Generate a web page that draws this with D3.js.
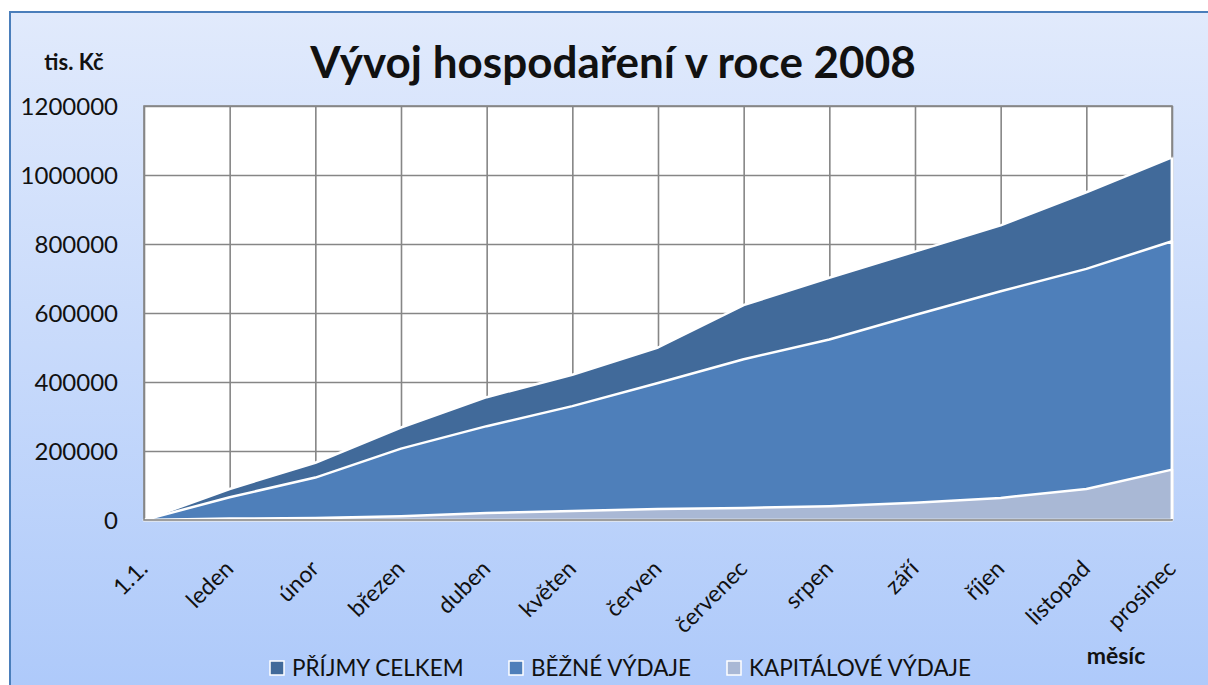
<!DOCTYPE html>
<html>
<head>
<meta charset="utf-8">
<script src="https://cdn.jsdelivr.net/npm/d3@7"></script>
<style>
  body { margin: 0; background: #fff; }
  svg { display: block; }
  text { font-family: Lato, "Open Sans", sans-serif; fill: #111; }
</style>
</head>
<body>
<svg id="chart" width="1208" height="685"></svg>
<script>
const categories = ['1.1.', 'leden', 'únor', 'březen', 'duben', 'květen', 'červen', 'červenec', 'srpen', 'září', 'říjen', 'listopad', 'prosinec']
const prijmyCelkem = [0, 90000, 166000, 268000, 356000, 421000, 500000, 623000, 702000, 778000, 854000, 950000, 1051000]
const bezneVydaje = [0, 66000, 123000, 207000, 272000, 330000, 397000, 466000, 523000, 594000, 663000, 728000, 808000]
const kapitaloveVydaje = [0, 4000, 6000, 11000, 20000, 26000, 32000, 35000, 40000, 50000, 64000, 90000, 146000]
const yTicks = [0, 200000, 400000, 600000, 800000, 1000000, 1200000]

const seriesNames = ['PŘÍJMY CELKEM', 'BĚŽNÉ VÝDAJE', 'KAPITÁLOVÉ VÝDAJE']
const seriesColors = ['#416a9a', '#4e7fba', '#a9b8d5']
const seriesValues = [prijmyCelkem, bezneVydaje, kapitaloveVydaje]

const svg = d3.select('#chart')
const plot = {left: 144, right: 1172, top: 106, bottom: 520}

// background of chart area
const defs = svg.append('defs')
const grad = defs.append('linearGradient')
    .attr('id', 'bg')
    .attr('x1', 0).attr('y1', 0).attr('x2', 0).attr('y2', 1)
grad.append('stop').attr('offset', '0%').attr('stop-color', '#e1eafc')
grad.append('stop').attr('offset', '100%').attr('stop-color', '#adc9fa')

svg.append('rect')
    .attr('x', 10).attr('y', 12)
    .attr('width', 1220).attr('height', 690)
    .attr('fill', 'url(#bg)')
    .attr('stroke', '#4a7ebb')
    .attr('stroke-width', 2)

const x = d3.scalePoint()
    .domain(categories)
    .range([plot.left, plot.right])

const y = d3.scaleLinear()
    .domain([0, 1200000])
    .range([plot.bottom, plot.top])

svg.append('rect')
    .attr('x', plot.left).attr('y', plot.top)
    .attr('width', plot.right - plot.left)
    .attr('height', plot.bottom - plot.top)
    .attr('fill', '#fff')

// gridlines
svg.append('g')
    .attr('transform', `translate(0,${plot.bottom})`)
    .call(d3.axisBottom(x).tickSize(plot.top - plot.bottom).tickFormat(''))
    .call(g => g.select('.domain').remove())
    .selectAll('line')
    .attr('stroke', '#868686')
    .attr('stroke-width', 1.6)

svg.append('g')
    .attr('transform', `translate(${plot.left},0)`)
    .call(d3.axisLeft(y).tickValues(yTicks).tickSize(plot.left - plot.right).tickFormat(''))
    .call(g => g.select('.domain').remove())
    .selectAll('line')
    .attr('stroke', '#868686')
    .attr('stroke-width', 1.6)

// areas, drawn back to front
const area = d3.area()
    .x((d, i) => x(categories[i]))
    .y0(y(0))
    .y1(d => y(d))

svg.append('g')
    .selectAll('path.area')
    .data(seriesValues)
    .enter()
    .append('path')
    .attr('class', 'area')
    .attr('d', d => area(d))
    .attr('fill', (d, i) => seriesColors[i])
    .attr('stroke', '#fff')
    .attr('stroke-width', 2.5)
    .attr('stroke-linejoin', 'round')

// plot border
svg.append('rect')
    .attr('x', plot.left).attr('y', plot.top)
    .attr('width', plot.right - plot.left)
    .attr('height', plot.bottom - plot.top)
    .attr('fill', 'none')
    .attr('stroke', '#868686')
    .attr('stroke-width', 1.6)
svg.append('line')
    .attr('x1', plot.right).attr('x2', plot.right)
    .attr('y1', y(prijmyCelkem[prijmyCelkem.length - 1])).attr('y2', plot.bottom - 1)
    .attr('stroke', '#fff')
    .attr('stroke-width', 2.5)

// y axis labels
svg.append('g')
    .selectAll('text.ylabel')
    .data(yTicks)
    .enter()
    .append('text')
    .attr('class', 'ylabel')
    .attr('x', 118)
    .attr('y', d => y(d))
    .attr('dy', '0.36em')
    .attr('text-anchor', 'end')
    .attr('font-size', 24)
    .text(d => d)

// x axis labels, rotated
svg.append('g')
    .selectAll('text.xlabel')
    .data(categories)
    .enter()
    .append('text')
    .attr('class', 'xlabel')
    .attr('transform', d => `translate(${x(d) - 7},${558}) rotate(-45)`)
    .attr('dy', '0.75em')
    .attr('text-anchor', 'end')
    .attr('font-size', 23)
    .text(d => d)

// titles
svg.append('text')
    .attr('x', 613).attr('y', 78)
    .attr('text-anchor', 'middle')
    .attr('font-size', 44)
    .attr('font-weight', 'bold')
    .text('Vývoj hospodaření v roce 2008')

svg.append('text')
    .attr('x', 74).attr('y', 70)
    .attr('text-anchor', 'middle')
    .attr('font-size', 22)
    .attr('font-weight', 'bold')
    .text('tis. Kč')

svg.append('text')
    .attr('x', 1116).attr('y', 664)
    .attr('text-anchor', 'middle')
    .attr('font-size', 23)
    .attr('font-weight', 'bold')
    .text('měsíc')

// legend
const legendX = [270, 509, 727]
const legend = svg.append('g')
    .selectAll('g.legend')
    .data(seriesNames)
    .enter()
    .append('g')
    .attr('class', 'legend')
    .attr('transform', (d, i) => `translate(${legendX[i]},668)`)
legend.append('rect')
    .attr('x', 0).attr('y', -7)
    .attr('width', 14).attr('height', 14)
    .attr('fill', (d, i) => seriesColors[i])
    .attr('stroke', '#fff')
    .attr('stroke-width', 1.5)
legend.append('text')
    .attr('x', 22)
    .attr('dy', '0.36em')
    .attr('font-size', 22.5)
    .text(d => d)
</script>
</body>
</html>
